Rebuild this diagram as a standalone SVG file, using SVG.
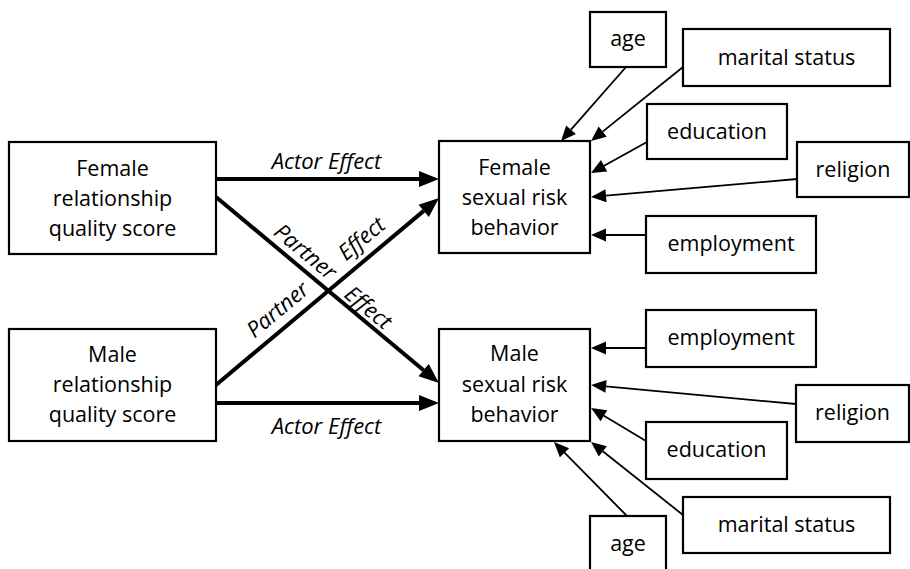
<svg xmlns="http://www.w3.org/2000/svg" width="910" height="569" viewBox="0 0 910 569">
<style>
  .box { fill: #ffffff; stroke: #000000; stroke-width: 2.2; }
  .t { font-family: "Open Sans", "Liberation Sans", sans-serif; font-size: 21.5px; fill: #000; text-anchor: middle; }
  .lab { font-family: "Open Sans", "Liberation Sans", sans-serif; font-size: 22px; font-style: italic; fill: #000; text-anchor: middle; }
  .thick { stroke: #000; stroke-width: 4; fill: none; marker-end: url(#bighead); }
  .thin { stroke: #000; stroke-width: 1.8; fill: none; marker-end: url(#smallhead); }
</style>
<defs>
  <marker id="bighead" markerUnits="userSpaceOnUse" markerWidth="22" markerHeight="18" refX="0" refY="8" orient="auto" overflow="visible">
    <path d="M0,0 L20,8 L0,16 z" fill="#000"/>
  </marker>
  <marker id="smallhead" markerUnits="userSpaceOnUse" markerWidth="16" markerHeight="14" refX="0" refY="6.5" orient="auto" overflow="visible">
    <path d="M0,0 L15,6.5 L0,13 z" fill="#000"/>
  </marker>
</defs>
<rect width="910" height="569" fill="#ffffff"/>

<g id="connectors">
  <line class="thick" x1="216" y1="179" x2="419" y2="179"/>
  <line class="thick" x1="216" y1="403" x2="419" y2="403"/>
  <line class="thick" x1="216" y1="197" x2="423.6" y2="370.2"/>
  <line class="thick" x1="216" y1="385" x2="423.7" y2="210.9"/>

  <line class="thin" x1="626" y1="67" x2="571" y2="129.7"/>
  <line class="thin" x1="683" y1="67" x2="602.7" y2="131.6"/>
  <line class="thin" x1="647" y1="142" x2="604.1" y2="165.7"/>
  <line class="thin" x1="797" y1="179" x2="606" y2="195.7"/>
  <line class="thin" x1="646" y1="235" x2="606" y2="235"/>

  <line class="thin" x1="646" y1="348" x2="606" y2="348"/>
  <line class="thin" x1="796" y1="404" x2="606" y2="386.4"/>
  <line class="thin" x1="646" y1="441" x2="603.9" y2="415.7"/>
  <line class="thin" x1="683" y1="515" x2="602.8" y2="451.3"/>
  <line class="thin" x1="627" y1="516" x2="564.5" y2="452.7"/>

  <text class="lab" x="326.5" y="169">Actor Effect</text>
  <text class="lab" x="326.5" y="434">Actor Effect</text>
  <text class="lab" transform="translate(305,252) rotate(39.8)" y="7">Partner</text>
  <text class="lab" transform="translate(368,308) rotate(39.8)" y="7">Effect</text>
  <text class="lab" transform="translate(278,310) rotate(-40)" y="7">Partner</text>
  <text class="lab" transform="translate(362,239) rotate(-40)" y="7">Effect</text>
</g>

<g id="female-rqs">
  <rect class="box" x="9" y="142" width="207" height="112"/>
  <text class="t" x="112.5" y="176">Female</text>
  <text class="t" x="112.5" y="206">relationship</text>
  <text class="t" x="112.5" y="236">quality score</text>
</g>
<g id="male-rqs">
  <rect class="box" x="9" y="329" width="207" height="112"/>
  <text class="t" x="112.5" y="362">Male</text>
  <text class="t" x="112.5" y="392">relationship</text>
  <text class="t" x="112.5" y="422">quality score</text>
</g>
<g id="female-srb">
  <rect class="box" x="439" y="141" width="151" height="112"/>
  <text class="t" x="514.5" y="175">Female</text>
  <text class="t" x="514.5" y="205">sexual risk</text>
  <text class="t" x="514.5" y="235">behavior</text>
</g>
<g id="male-srb">
  <rect class="box" x="439" y="329" width="151" height="112"/>
  <text class="t" x="514.5" y="361">Male</text>
  <text class="t" x="514.5" y="392">sexual risk</text>
  <text class="t" x="514.5" y="422">behavior</text>
</g>

<g id="f-age">
  <rect class="box" x="590" y="12" width="76" height="55"/>
  <text class="t" x="628" y="46">age</text>
</g>
<g id="f-marital">
  <rect class="box" x="683" y="29" width="207" height="57"/>
  <text class="t" x="786.5" y="65">marital status</text>
</g>
<g id="f-education">
  <rect class="box" x="647" y="104" width="140" height="55"/>
  <text class="t" x="717" y="139">education</text>
</g>
<g id="f-religion">
  <rect class="box" x="797" y="142" width="112" height="55"/>
  <text class="t" x="853" y="177">religion</text>
</g>
<g id="f-employment">
  <rect class="box" x="646" y="216" width="170" height="57"/>
  <text class="t" x="731" y="251">employment</text>
</g>

<g id="m-employment">
  <rect class="box" x="646" y="310" width="170" height="57"/>
  <text class="t" x="731" y="345">employment</text>
</g>
<g id="m-religion">
  <rect class="box" x="796" y="385" width="113" height="57"/>
  <text class="t" x="852.5" y="420">religion</text>
</g>
<g id="m-education">
  <rect class="box" x="646" y="422" width="141" height="57"/>
  <text class="t" x="716.5" y="457">education</text>
</g>
<g id="m-marital">
  <rect class="box" x="683" y="497" width="207" height="56"/>
  <text class="t" x="786.5" y="532">marital status</text>
</g>
<g id="m-age">
  <rect class="box" x="590" y="516" width="76" height="60"/>
  <text class="t" x="628" y="551">age</text>
</g>
</svg>
